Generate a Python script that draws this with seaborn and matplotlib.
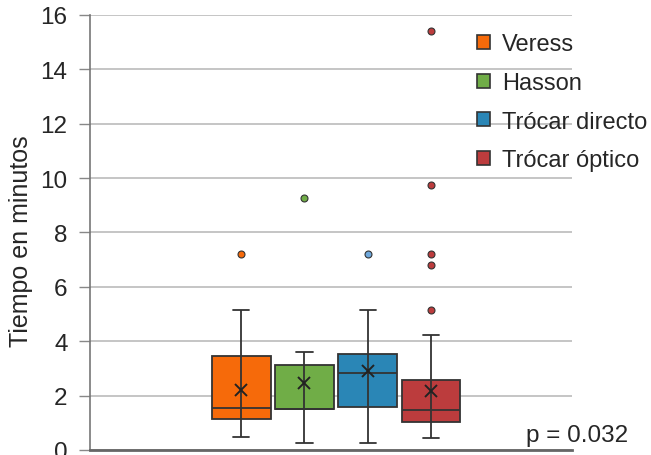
import numpy as np
import pandas as pd
import seaborn as sns
import matplotlib.pyplot as plt

# Values (minutes)
grupos = ["Veress", "Hasson", "Trócar directo", "Trócar óptico"]

veress = [0.47, 0.55, 0.7, 0.9, 1.13, 1.2, 1.3, 1.4, 1.53, 1.55, 1.6, 1.7,
          3.46, 3.6, 4.0, 5.14, 7.2]
hasson = [0.25, 0.45, 0.67, 1.51, 1.51, 1.51, 1.51, 2.4, 2.9, 3.12, 3.3, 3.6,
          9.25]
trocar_directo = [0.25, 1.0, 1.43, 1.59, 2.0, 2.5, 2.82, 3.0, 3.3, 3.52, 4.2,
                  5.15, 7.2]
trocar_optico = [0.44, 0.45, 0.48, 0.5, 0.52, 0.55, 0.6, 0.62, 0.65, 0.7,
                 0.75, 0.8, 0.85, 0.9, 0.95,
                 1.02, 1.04, 1.06, 1.08, 1.1, 1.12, 1.15, 1.18, 1.2, 1.22,
                 1.25, 1.3, 1.35, 1.4, 1.44,
                 1.46, 1.5, 1.55, 1.6, 1.65, 1.7, 1.75, 1.8, 1.9, 2.0,
                 2.1, 2.2, 2.3, 2.4, 2.5,
                 2.56, 2.58, 2.6, 2.62, 2.65, 2.7, 2.75, 2.8, 2.9, 2.98,
                 4.24, 5.15, 6.8, 7.2, 9.75, 15.4]

colores = ["#F66A0A", "#70AD47", "#2A86B6", "#BC3C3D"]
color_outlier = ["#F66A0A", "#70AD47", "#6FA8DC", "#BC3C3D"]

df = pd.DataFrame({
    "grupo": np.repeat(grupos, [len(veress), len(hasson), len(trocar_directo), len(trocar_optico)]),
    "tiempo": veress + hasson + trocar_directo + trocar_optico,
})

sns.set_style("white")
plt.rcParams["font.family"] = ["Liberation Sans", "DejaVu Sans"]

fig = plt.figure(figsize=(6.51, 4.56), dpi=100)
ax = fig.add_axes([0.138, 0.011, 0.741, 0.954])

ax.yaxis.grid(True, color="#BBBBBB", linewidth=1.2, zorder=0)
ax.set_axisbelow(True)

ancho = 0.93
sns.boxplot(data=df, x="grupo", y="tiempo", hue="grupo", order=grupos,
            hue_order=grupos, palette=colores, saturation=1, width=ancho, gap=0,
            linecolor="#333333", linewidth=1.3, showmeans=True,
            meanprops=dict(marker="x", markeredgecolor="#222222",
                           markersize=8, markeredgewidth=1.4),
            flierprops=dict(marker="o", markersize=5, markeredgecolor="#333333",
                            markeredgewidth=0.8),
            legend=True, ax=ax)

# Excel style: whisker runs through the box, narrow caps, coloured outliers
xs = {}
for ln in ax.lines:
    xd = ln.get_xdata()
    if len(xd) == 2 and xd[0] == xd[1]:
        xs.setdefault(round(float(xd[0]), 3), []).append(ln)
for x0, lns in xs.items():
    ys = np.concatenate([ln.get_ydata() for ln in lns])
    lns[0].set_ydata([ys.min(), ys.max()])
    lns[0].set_zorder(4)
    for ln in lns[1:]:
        ln.set_visible(False)
for ln in ax.lines:
    xd = ln.get_xdata()
    if len(xd) == 2 and xd[0] != xd[1] and abs(xd[1] - xd[0]) < 0.8 * ancho:
        c = (xd[0] + xd[1]) / 2
        ln.set_xdata([c - 0.13, c + 0.13])
    if ln.get_marker() == "o" and len(xd):
        i = int(round(np.mean(xd)))
        ln.set_markerfacecolor(color_outlier[i])
    if ln.get_marker() == "x":
        ln.set_zorder(5)

ax.set_ylim(0, 16)
ax.set_yticks(range(0, 17, 2))
ax.set_xlim(-2.39, 5.23)
ax.set_xticks([])
ax.set_xlabel("")
ax.set_ylabel("Tiempo en minutos", fontsize=18)
ax.yaxis.set_label_coords(-0.118, 0.483)
ax.tick_params(axis="y", labelsize=17.5, length=8, color="#888888", width=1, pad=8,
               left=True)

for s in ["top", "right"]:
    ax.spines[s].set_visible(False)
ax.spines["left"].set_color("#777777")
ax.spines["left"].set_linewidth(1.2)
ax.spines["bottom"].set_color("#666666")
ax.spines["bottom"].set_linewidth(2)

leg = ax.legend(loc="upper left", bbox_to_anchor=(0.7006, 0.971),
                bbox_transform=fig.transFigure, frameon=False,
                fontsize=17, handlelength=0.55, handleheight=0.55,
                handletextpad=0.5, labelspacing=0.7)
for h in leg.legend_handles:
    h.set_edgecolor("#333333")
    h.set_linewidth(1.2)

fig.text(0.886, 0.044, "p = 0.032", fontsize=17.5, ha="center", va="center")

fig.savefig("out.png", dpi=100)
